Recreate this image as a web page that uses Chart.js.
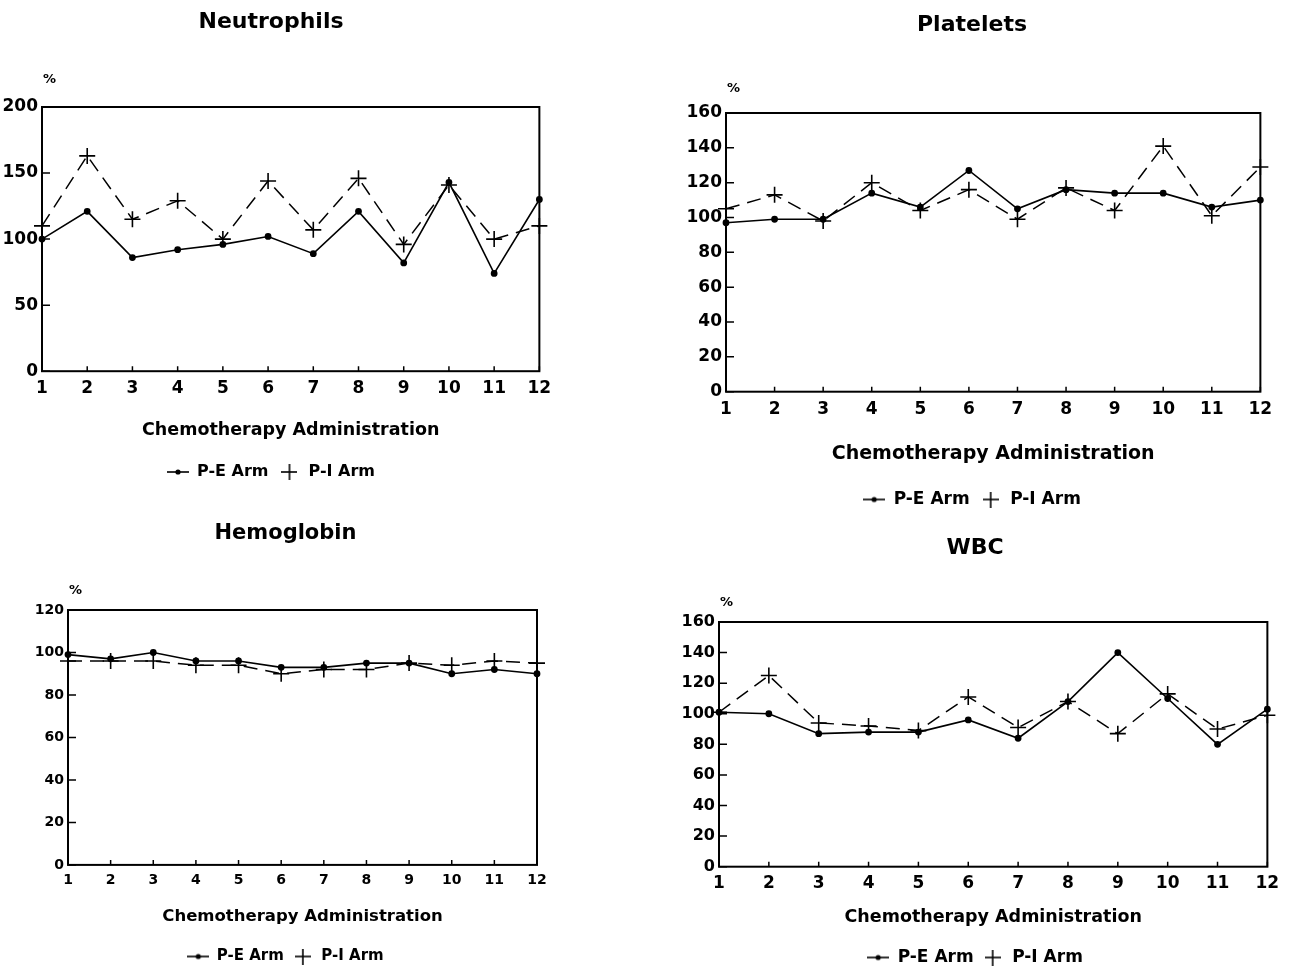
<!DOCTYPE html>
<html>
<head>
<meta charset="utf-8">
<title>Blood counts by chemotherapy administration</title>
<script src="https://cdn.jsdelivr.net/npm/chart.js@4.4.1/dist/chart.umd.min.js"></script>
<style>
  html, body { margin: 0; padding: 0; background: #fff; overflow: hidden; }
  canvas { position: absolute; }
</style>
</head>
<body>
<canvas id="neutrophils" width="558" height="490" style="left:0;top:0"></canvas>
<canvas id="platelets" width="608" height="518" style="left:672px;top:0"></canvas>
<canvas id="hemoglobin" width="535" height="474" style="left:20px;top:500px"></canvas>
<canvas id="wbc" width="614" height="476" style="left:672px;top:500px"></canvas>
<script>
const administrations = ['1', '2', '3', '4', '5', '6', '7', '8', '9', '10', '11', '12'];

const neutrophilsPE = [100, 121, 86, 92, 96, 102, 89, 121, 82, 143, 74, 130];
const neutrophilsPI = [110, 163, 115, 129, 100, 144, 107, 146, 96, 141, 100, 110];
const plateletsPE = [97, 99, 99, 114, 106, 127, 105, 116, 114, 114, 106, 110];
const plateletsPI = [105, 113, 98, 120, 104, 116, 99, 117, 104, 141, 101, 129];
const hemoglobinPE = [99, 97, 100, 96, 96, 93, 93, 95, 95, 90, 92, 90];
const hemoglobinPI = [96, 96, 96, 94, 94, 90, 92, 92, 95, 94, 96, 95];
const wbcPE = [101, 100, 87, 88, 88, 96, 84, 108, 140, 110, 80, 103];
const wbcPI = [101, 125, 94, 92, 89, 111, 91, 108, 87, 113, 90, 99];

// y axis ranges: [max, step]
const neutrophilsRange = [200, 50];
const plateletsRange = [160, 20];
const hemoglobinRange = [120, 20];
const wbcRange = [160, 20];

const FONT = '"DejaVu Sans", "Liberation Sans", sans-serif';
Chart.defaults.font.family = FONT;
Chart.defaults.font.weight = 'bold';
Chart.defaults.color = '#000';

// legend symbols: line with dot, and a plus
function peIcon() {
  const c = document.createElement('canvas');
  c.width = 22; c.height = 8;
  const g = c.getContext('2d');
  g.fillStyle = '#000';
  g.fillRect(0, 3.2, 22, 1.6);
  g.beginPath(); g.arc(11, 4, 2.6, 0, Math.PI * 2); g.fill();
  return c;
}
function piIcon() {
  const c = document.createElement('canvas');
  c.width = 16; c.height = 16;
  const g = c.getContext('2d');
  g.fillStyle = '#000';
  g.fillRect(0, 7.2, 16, 1.6);
  g.fillRect(7.2, 0, 1.6, 16);
  return c;
}

// box around plot, inward tick marks and the "%" unit
const plotFrame = {
  id: 'plotFrame',
  beforeDatasetsDraw(chart, args, opts) {
    const { ctx, chartArea: a, scales: { x, y } } = chart;
    ctx.save();
    ctx.strokeStyle = '#000';
    ctx.lineWidth = 2;
    ctx.strokeRect(a.left, a.top, a.width, a.height);
    ctx.lineWidth = 1.5;
    ctx.beginPath();
    y.ticks.forEach((t, i) => {
      const py = y.getPixelForTick(i);
      ctx.moveTo(a.left, py); ctx.lineTo(a.left + 8, py);
    });
    x.ticks.forEach((t, i) => {
      const px = x.getPixelForTick(i);
      ctx.moveTo(px, a.bottom); ctx.lineTo(px, a.bottom - 5);
    });
    ctx.stroke();
    ctx.font = 'bold 13px ' + FONT;
    ctx.fillStyle = '#000';
    ctx.textBaseline = 'middle';
    ctx.fillText('%', a.left + 1, a.top - opts.unitGap);
    ctx.restore();
  },
};

function makeChart(id, o) {
  const icons = [peIcon(), piIcon()];
  return new Chart(document.getElementById(id), {
    type: 'line',
    data: {
      labels: administrations,
      datasets: [
        {
          label: 'P-E Arm', data: o.pe, borderColor: '#000', backgroundColor: '#000',
          borderWidth: 1.6, pointStyle: 'circle', pointRadius: 2.6, clip: false,
        },
        {
          label: 'P-I Arm', data: o.pi, borderColor: '#000', backgroundColor: '#000',
          borderWidth: 1.5, borderDash: [14, 8], pointStyle: 'cross', pointRadius: 8,
          pointBorderWidth: 1.6, clip: false,
        },
      ],
    },
    options: {
      responsive: false,
      animation: false,
      layout: { padding: { left: o.padLeft, right: 18, top: 0, bottom: 0 } },
      plugins: {
        tooltip: { enabled: false },
        title: {
          display: true, text: o.title, color: '#000',
          font: { size: o.titleSize, weight: 'bold' },
          padding: { top: o.titleTop, bottom: o.titleBottom },
        },
        legend: {
          position: 'bottom',
          labels: {
            color: '#000',
            font: { size: o.legendSize, weight: 'bold' },
            padding: o.legendPad,
            usePointStyle: true,
            pointStyleWidth: 22,
            generateLabels: (chart) => chart.data.datasets.map((ds, i) => ({
              text: ds.label, pointStyle: icons[i], datasetIndex: i,
              fillStyle: '#000', strokeStyle: '#000', lineWidth: 0, hidden: false, fontColor: '#000',
            })),
          },
        },
        plotFrame: { unitGap: o.unitGap },
      },
      scales: {
        x: {
          grid: { display: false, drawTicks: false },
          border: { display: false },
          ticks: { font: { size: o.tickSize, weight: 'bold' }, padding: o.xTickPad, maxRotation: 0, autoSkip: false },
          title: {
            display: true, text: 'Chemotherapy Administration', color: '#000',
            font: { size: o.xTitleSize, weight: 'bold' },
            padding: { top: o.xTitleTop, bottom: o.xTitleBottom },
          },
        },
        y: {
          min: 0, max: o.range[0],
          grid: { display: false, drawTicks: false },
          border: { display: false },
          ticks: { stepSize: o.range[1], font: { size: o.yTickSize || o.tickSize, weight: 'bold' }, padding: 4 },
          afterFit: (s) => { s.width = o.yWidth; },
        },
      },
    },
    plugins: [plotFrame],
  });
}

makeChart('neutrophils', {
  title: 'Neutrophils', pe: neutrophilsPE, pi: neutrophilsPI, range: neutrophilsRange,
  padLeft: 2, yWidth: 40, titleSize: 22, titleTop: 8.8, titleBottom: 71.8,
  tickSize: 17, xTickPad: 6.8, xTitleSize: 17.5, xTitleTop: 14.3, xTitleBottom: 13.5,
  legendSize: 16, legendPad: 10, unitGap: 27,
});
makeChart('platelets', {
  title: 'Platelets', pe: plateletsPE, pi: plateletsPI, range: plateletsRange,
  padLeft: 10, yWidth: 44, titleSize: 22, titleTop: 11.8, titleBottom: 74.8,
  tickSize: 17, xTickPad: 7.8, xTitleSize: 19, xTitleTop: 15.4, xTitleBottom: 15.1,
  legendSize: 17, legendPad: 10, unitGap: 24,
});
makeChart('hemoglobin', {
  title: 'Hemoglobin', pe: hemoglobinPE, pi: hemoglobinPI, range: hemoglobinRange,
  padLeft: 14, yWidth: 34, titleSize: 21, titleTop: 21.4, titleBottom: 63.4,
  tickSize: 14, xTickPad: 6.6, xTitleSize: 16.5, xTitleTop: 11.7, xTitleBottom: 14.6,
  legendSize: 15, legendPad: 8, unitGap: 19,
});
makeChart('wbc', {
  title: 'WBC', pe: wbcPE, pi: wbcPI, range: wbcRange,
  padLeft: 10, yWidth: 37, titleSize: 22, titleTop: 34.8, titleBottom: 60.8,
  tickSize: 17, yTickSize: 16, xTickPad: 6.8, xTitleSize: 17.5, xTitleTop: 6.3, xTitleBottom: 13,
  legendSize: 17, legendPad: 8, unitGap: 19,
});
</script>
</body>
</html>
